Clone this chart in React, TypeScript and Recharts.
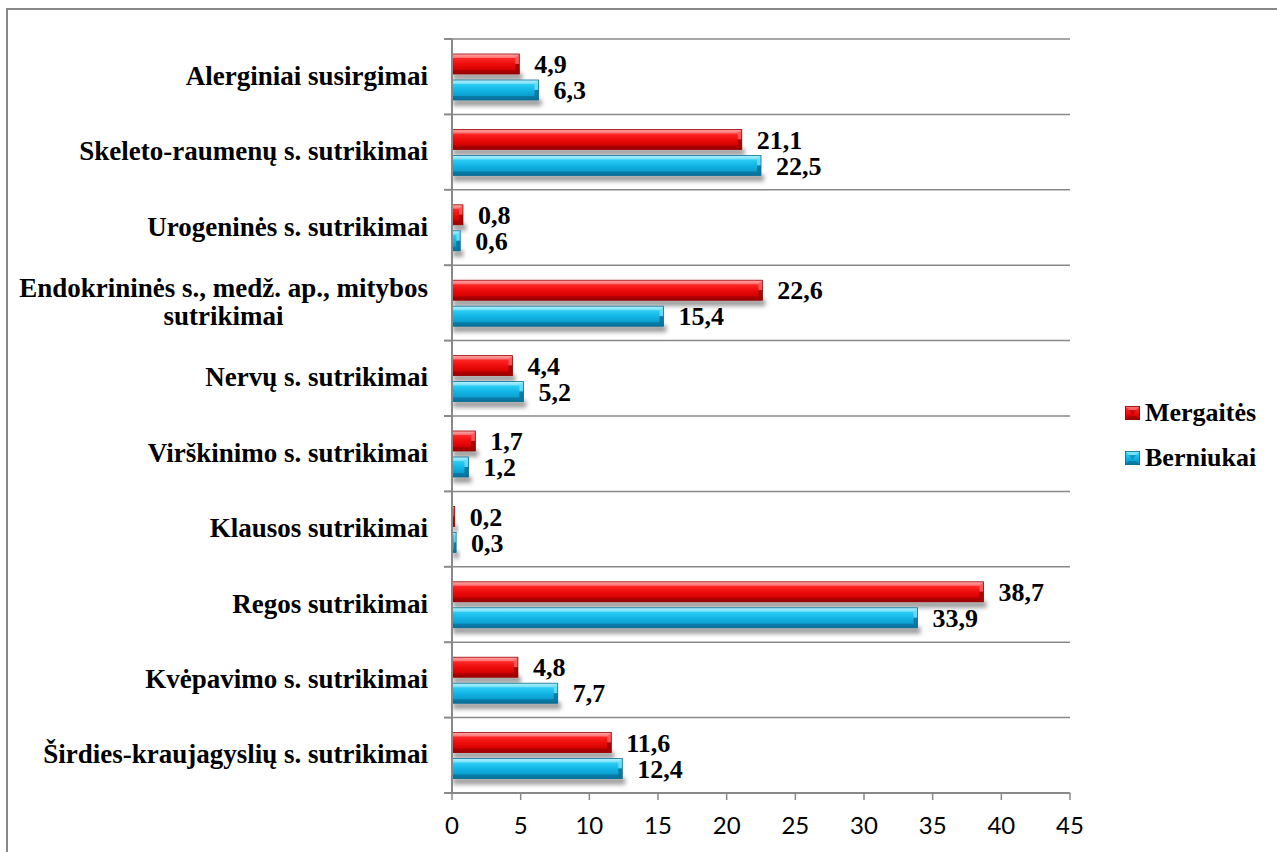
import React from "react";
import {
  BarChart,
  Bar,
  XAxis,
  YAxis,
  CartesianGrid,
  Legend,
  LabelList,
} from "recharts";

const categories = [
  "Alerginiai susirgimai",
  "Skeleto-raumenų s. sutrikimai",
  "Urogeninės s. sutrikimai",
  "Endokrininės s., medž. ap., mitybos sutrikimai",
  "Nervų s. sutrikimai",
  "Virškinimo s. sutrikimai",
  "Klausos sutrikimai",
  "Regos sutrikimai",
  "Kvėpavimo s. sutrikimai",
  "Širdies-kraujagyslių s. sutrikimai",
];

const mergaites = [4.9, 21.1, 0.8, 22.6, 4.4, 1.7, 0.2, 38.7, 4.8, 11.6];
const berniukai = [6.3, 22.5, 0.6, 15.4, 5.2, 1.2, 0.3, 33.9, 7.7, 12.4];

const xTicks = [0, 5, 10, 15, 20, 25, 30, 35, 40, 45];

const data = categories.map((name, i) => ({
  name,
  mergaites: mergaites[i],
  berniukai: berniukai[i],
}));

const W = 1277;
const H = 852;
const MARGIN = { top: 39, right: 207, bottom: 0, left: 0 };
const Y_AXIS_W = 452;
const X_AXIS_H = 59;
const AXIS_X = MARGIN.left + Y_AXIS_W;
const PLOT_H = H - MARGIN.top - MARGIN.bottom - X_AXIS_H;
const BAND = PLOT_H / categories.length;

const GRAY = "#898989";
const SERIF = '"Liberation Serif", "Times New Roman", serif';
const CAT_FONT = 27;

const RED = { id: "red", light: "#ff7a7a", top: "#ff2a2a", mid: "#ee0c0c", low: "#d30000", dark: "#9c0000" };
const BLUE = { id: "blue", light: "#8eeaff", top: "#2fd0f5", mid: "#12b6e6", low: "#0a9ccc", dark: "#096f98" };

const fmt = (v: any) => String(v).replace(".", ",");

let ctx: CanvasRenderingContext2D | null = null;
const measure = (s: string) => {
  if (!ctx) ctx = document.createElement("canvas").getContext("2d");
  if (!ctx) return s.length * CAT_FONT * 0.5;
  ctx.font = `bold ${CAT_FONT}px ${SERIF}`;
  return ctx.measureText(s).width;
};

const wrap = (s: string, max: number) => {
  const words = s.split(" ");
  const lines: string[] = [];
  let cur = "";
  words.forEach((w) => {
    const next = cur ? cur + " " + w : w;
    if (cur && measure(next) > max) {
      lines.push(cur);
      cur = w;
    } else cur = next;
  });
  if (cur) lines.push(cur);
  return lines;
};

function CategoryTick(props: any) {
  const { y, payload, index } = props;
  const lines = wrap(String(payload.value), 420);
  const right = AXIS_X - 24;
  const lh = 28;
  const maxW = Math.max(...lines.map(measure));
  const multi = lines.length > 1;
  const start = y - ((lines.length - 1) * lh) / 2 + CAT_FONT * 0.3;
  return (
    <g>
      <line x1={AXIS_X - 8} x2={AXIS_X} y1={y - BAND / 2} y2={y - BAND / 2} stroke={GRAY} strokeWidth={2} />
      {index === categories.length - 1 && (
        <line x1={AXIS_X - 8} x2={AXIS_X} y1={y + BAND / 2} y2={y + BAND / 2} stroke={GRAY} strokeWidth={2} />
      )}
      {lines.map((l, i) => (
        <text
          key={i}
          x={multi ? right - maxW / 2 : right}
          y={start + i * lh}
          textAnchor={multi ? "middle" : "end"}
          fontFamily={SERIF}
          fontWeight="bold"
          fontSize={CAT_FONT}
          fill="#000"
        >
          {l}
        </text>
      ))}
    </g>
  );
}

function BevelBar(props: any) {
  const { x, y, width, height, pal } = props;
  if (!width || width <= 0) return null;
  const b = Math.min(4, width / 2, height / 4);
  return (
    <g>
      <rect x={x + 1} y={y + height - 1} width={width + 2} height={7} fill="rgba(0,0,0,0.38)" filter="url(#barShadow)" />
      <rect x={x} y={y} width={width} height={height} fill={`url(#grad-${pal.id})`} />
      <polygon
        points={`${x},${y} ${x + width},${y} ${x + width - b},${y + b} ${x},${y + b}`}
        fill="rgba(255,255,255,0.35)"
      />
      <polygon
        points={`${x},${y + height} ${x + width},${y + height} ${x + width - b},${y + height - b} ${x},${y + height - b}`}
        fill={pal.dark}
        opacity={0.7}
      />
      <polygon
        points={`${x + width},${y} ${x + width},${y + height / 2} ${x + width - b},${y + height / 2} ${x + width - b},${y + b}`}
        fill={pal.light}
        opacity={0.6}
      />
      <polygon
        points={`${x + width},${y + height / 2} ${x + width},${y + height} ${x + width - b},${y + height - b} ${x + width - b},${y + height / 2}`}
        fill={pal.dark}
        opacity={0.8}
      />
      <rect x={x} y={y} width={width} height={height} fill="none" stroke={pal.dark} strokeWidth={0.8} />
    </g>
  );
}

const LegendSquare = ({ pal }: { pal: typeof RED }) => (
  <svg width={15} height={14} style={{ display: "block" }}>
    <rect x={0} y={0} width={15} height={14} fill={`url(#grad-${pal.id})`} />
    <polygon points="0,0 15,0 11,4 4,4" fill={pal.light} opacity={0.7} />
    <polygon points="0,14 15,14 11,10 4,10" fill={pal.dark} opacity={0.7} />
    <polygon points="4,4 11,4 7.5,9" fill={pal.dark} opacity={0.5} />
    <rect x={0.4} y={0.4} width={14.2} height={13.2} fill="none" stroke={pal.dark} strokeWidth={0.8} />
  </svg>
);

const series = [
  { key: "mergaites", name: "Mergaitės", pal: RED },
  { key: "berniukai", name: "Berniukai", pal: BLUE },
];

const renderLegend = () => (
  <div>
    {series.map((s) => (
      <div key={s.key} style={{ display: "flex", alignItems: "center", height: 45 }}>
        <LegendSquare pal={s.pal} />
        <span
          style={{
            marginLeft: 5,
            fontFamily: SERIF,
            fontWeight: "bold",
            fontSize: 26,
            lineHeight: "45px",
            color: "#000",
          }}
        >
          {s.name}
        </span>
      </div>
    ))}
  </div>
);

const gradient = (pal: typeof RED) => (
  <linearGradient id={`grad-${pal.id}`} x1="0" y1="0" x2="0" y2="1" key={pal.id}>
    <stop offset="0%" stopColor={pal.light} />
    <stop offset="18%" stopColor={pal.top} />
    <stop offset="50%" stopColor={pal.mid} />
    <stop offset="82%" stopColor={pal.low} />
    <stop offset="100%" stopColor={pal.dark} />
  </linearGradient>
);

export default function App() {
  return (
    <div style={{ position: "absolute", left: 0, top: 0, width: W, height: H, background: "#fff", overflow: "hidden" }}>
      <div
        style={{
          position: "absolute",
          left: 6,
          top: 8,
          width: W,
          height: H,
          borderTop: `2px solid ${GRAY}`,
          borderLeft: `2px solid ${GRAY}`,
        }}
      />
      <BarChart
        width={W}
        height={H}
        data={data}
        layout="vertical"
        margin={MARGIN}
        barSize={20}
        barGap={6}
        style={{ position: "absolute", left: 0, top: 0 }}
      >
        <defs>
          {gradient(RED)}
          {gradient(BLUE)}
          <filter id="barShadow" x="-20%" y="-100%" width="140%" height="300%">
            <feGaussianBlur stdDeviation="2" />
          </filter>
        </defs>
        <CartesianGrid
          vertical={false}
          stroke={GRAY}
          strokeWidth={1.5}
          horizontalCoordinatesGenerator={({ offset }: any) =>
            categories.map((_, i) => offset.top + (i * offset.height) / categories.length)
          }
        />
        <XAxis
          type="number"
          domain={[0, 45]}
          ticks={xTicks}
          interval={0}
          height={X_AXIS_H}
          axisLine={{ stroke: GRAY, strokeWidth: 2 }}
          tickLine={{ stroke: GRAY, strokeWidth: 1.5 }}
          tickSize={7}
          tickMargin={17}
          tick={{ fontFamily: "Lato, sans-serif", fontSize: 24, fill: "#000" }}
        />
        <YAxis
          type="category"
          dataKey="name"
          width={Y_AXIS_W}
          axisLine={{ stroke: GRAY, strokeWidth: 2 }}
          tickLine={false}
          interval={0}
          tick={<CategoryTick />}
        />
        <Legend
          layout="vertical"
          align="center"
          verticalAlign="middle"
          content={renderLegend}
          wrapperStyle={{ left: 1125, top: 390, width: 150 }}
        />
        {series.map((s) => (
          <Bar
            key={s.key}
            dataKey={s.key}
            name={s.name}
            fill={s.pal.mid}
            isAnimationActive={false}
            shape={(p: any) => <BevelBar {...p} pal={s.pal} />}
          >
            <LabelList
              dataKey={s.key}
              position="right"
              offset={15}
              formatter={fmt}
              style={{ fontFamily: SERIF, fontWeight: "bold", fontSize: 26, fill: "#000" }}
            />
          </Bar>
        ))}
      </BarChart>
    </div>
  );
}
